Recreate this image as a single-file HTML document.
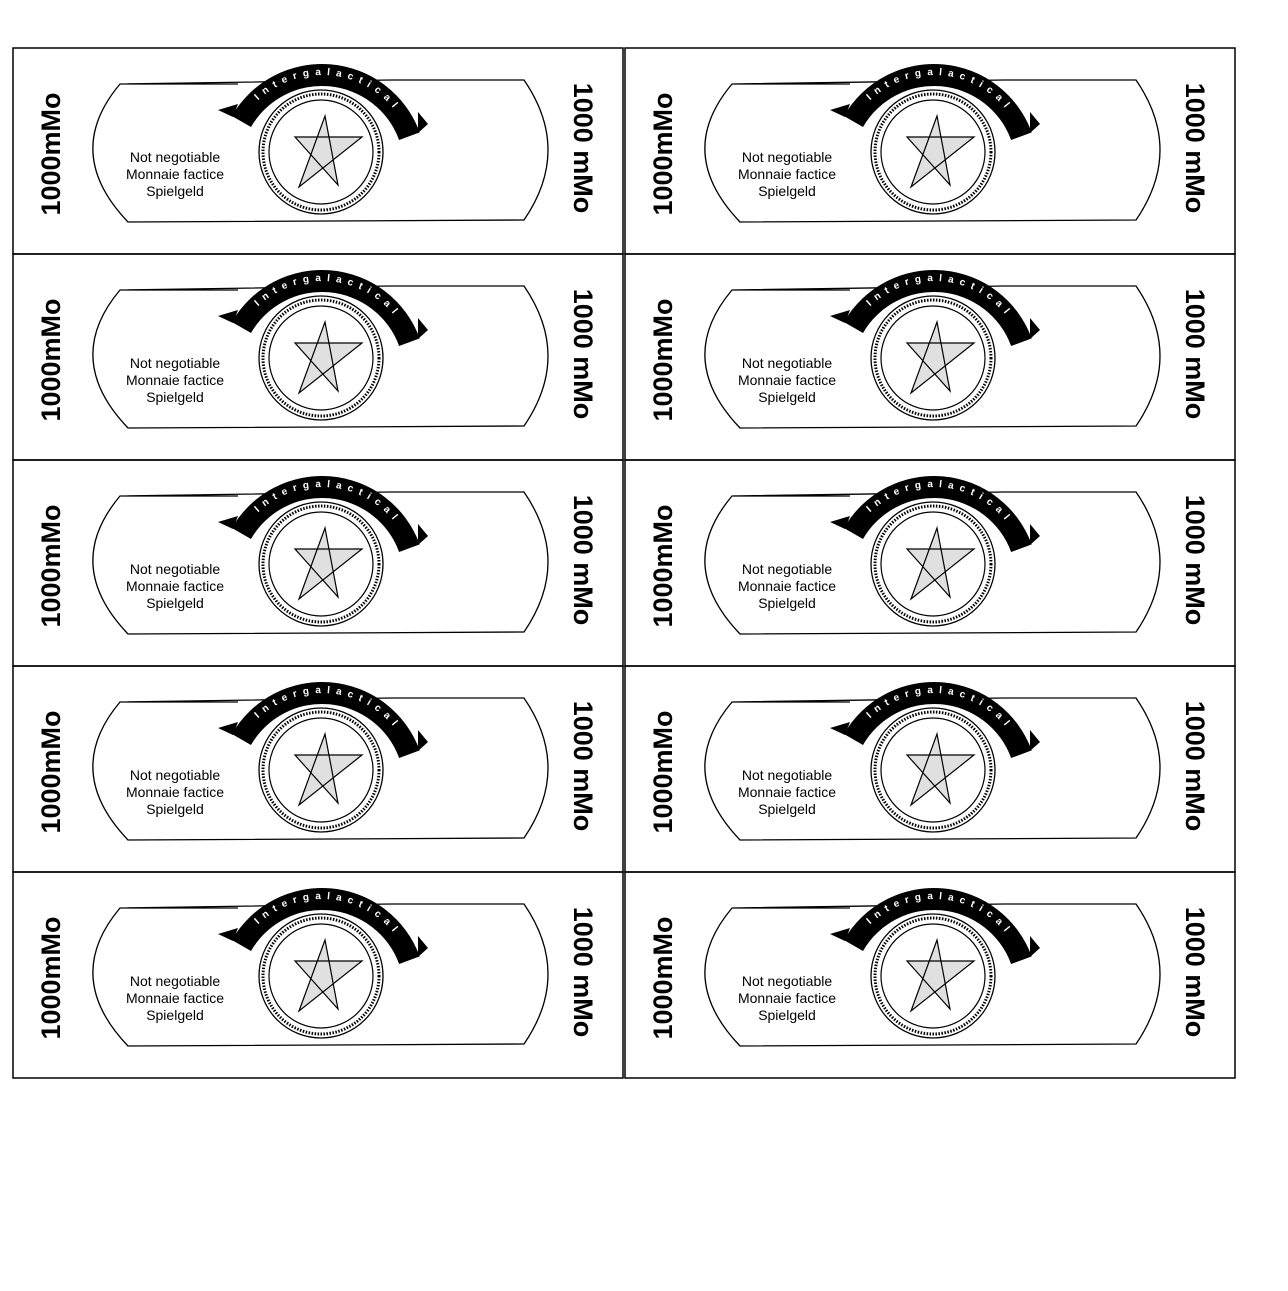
<!DOCTYPE html>
<html><head><meta charset="utf-8"><style>
html,body{margin:0;padding:0;background:#fff;}
svg{display:block;font-family:"Liberation Sans",sans-serif;}
</style></head><body>
<svg id="s" width="1288" height="1291" viewBox="0 0 1288 1291" xmlns="http://www.w3.org/2000/svg">
<defs>
<path id="rib" d="M 241.5 121.5 A 93 93 0 0 1 409.4 136.2" fill="none"/>
<g id="note">
  <path d="M 120 84 L 238 84 M 392 80 L 524 80 Q 572 150 524 220 L 128 222 Q 62 153 120 84 Z" fill="none" stroke="#000" stroke-width="1.3"/>
  <path d="M 231.9 116 A 104 104 0 0 1 419.7 132.4 L 399.1 140 A 82 82 0 0 0 251 127 Z" fill="#000"/>
  <path d="M 233 117 L 218 110 L 238 104 Z M 418 133 L 428 124 L 418 112 Z" fill="#000"/>
  <circle cx="321" cy="152" r="62" fill="#fff" stroke="#000" stroke-width="1.3"/>
  <circle cx="321" cy="152" r="58" fill="none" stroke="#000" stroke-width="3" stroke-dasharray="1.5 1.5"/>
  <circle cx="321" cy="152" r="52" fill="none" stroke="#000" stroke-width="1.2"/>
  <polygon points="325,116 338,185 295,137 362,137 299,187" fill="#e0e0e0" stroke="#000" stroke-width="1.2"/>
  <text font-size="10" fill="#fff" font-weight="bold" letter-spacing="6"><textPath href="#rib" startOffset="50%" text-anchor="middle">Intergalactical</textPath></text>
  <text x="175" y="162" font-size="14" text-anchor="middle">Not negotiable</text>
  <text x="175" y="179" font-size="14" text-anchor="middle">Monnaie factice</text>
  <text x="175" y="196" font-size="14" text-anchor="middle">Spielgeld</text>
  <text transform="translate(60,154) rotate(-90)" font-size="27" font-weight="bold" text-anchor="middle">1000mMo</text>
  <text transform="translate(574,148) rotate(90)" font-size="27" font-weight="bold" text-anchor="middle">1000 mMo</text>
</g>
</defs>
</svg>
<script>
const cols=[0,612];
const rows=[0,206,412,618,824];
const svg=document.getElementById('s');
const NS='http://www.w3.org/2000/svg';
cols.forEach((cx,ci)=>{rows.forEach((ry,ri)=>{
  const r=document.createElementNS(NS,'rect');
  r.setAttribute('x',13+cx);r.setAttribute('y',48+ry);r.setAttribute('width',610);r.setAttribute('height',206);
  r.setAttribute('fill','none');r.setAttribute('stroke','#000');r.setAttribute('stroke-width','1.5');
  
  
  svg.appendChild(r);
  const u=document.createElementNS(NS,'use');
  u.setAttribute('href','#note');
  u.setAttribute('transform','translate('+cx+','+ry+')');
  
  
  svg.appendChild(u);
});});
</script>
</body></html>
